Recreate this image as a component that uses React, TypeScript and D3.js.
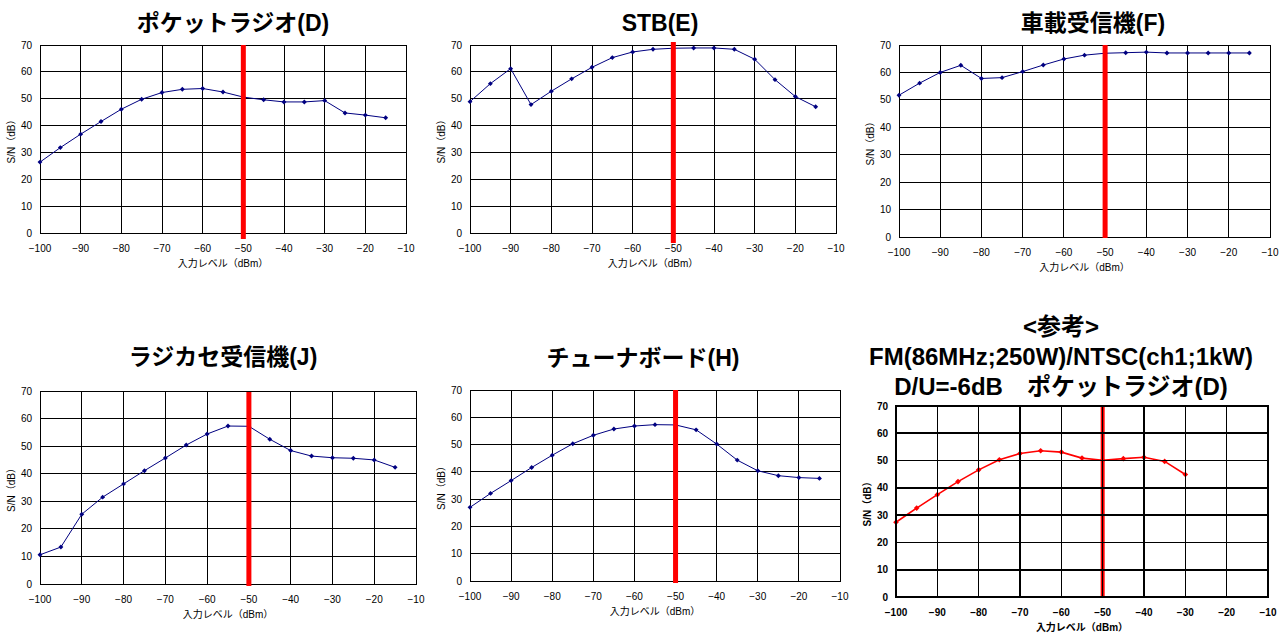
import * as d3 from "d3";

const levels = [-100, -95, -90, -85, -80, -75, -70, -65, -60, -55, -50, -45, -40, -35, -30, -25, -20, -15];
const levelsRef = [-100, -95, -90, -85, -80, -75, -70, -65, -60, -55, -50, -45, -40, -35, -30];

const snPocketD = [26.4, 31.8, 36.8, 41.5, 46.1, 49.8, 52.3, 53.5, 53.8, 52.5, 50.6, 49.6, 48.8, 48.8, 49.3, 44.7, 43.9, 42.9];
const snStbE = [48.9, 55.6, 61.2, 47.8, 52.8, 57.4, 61.7, 65.3, 67.4, 68.4, 68.8, 68.9, 68.9, 68.4, 64.7, 57.1, 50.8, 47.0];
const snCarF = [51.7, 56.1, 60.0, 62.6, 57.8, 58.1, 60.3, 62.7, 64.9, 66.3, 67.0, 67.2, 67.4, 67.1, 67.1, 67.1, 67.1, 67.1];
const snRadioJ = [10.6, 13.4, 25.3, 31.5, 36.3, 41.1, 45.7, 50.4, 54.4, 57.3, 57.2, 52.5, 48.4, 46.4, 45.8, 45.6, 45.0, 42.3];
const snTunerH = [27.0, 32.1, 36.8, 41.6, 46.1, 50.3, 53.4, 55.7, 56.8, 57.3, 57.2, 55.4, 50.2, 44.3, 40.4, 38.6, 37.9, 37.6];
const snRefD = [27.4, 32.6, 37.5, 42.3, 46.6, 50.3, 52.6, 53.6, 53.1, 50.9, 50.1, 50.7, 51.2, 49.7, 44.9];

const xTicks = [-100, -90, -80, -70, -60, -50, -40, -30, -20, -10];
const yTicks = [0, 10, 20, 30, 40, 50, 60, 70];
const refLevel = -50;

const FONT = "'Liberation Sans', Arial, 'Noto Sans CJK JP', sans-serif";

function Chart({ titles, tx, ty, box, xs, ys, color, bold = false, refSpan, gridOnTop = false }) {
  const [x0, x1, y0, y1] = box;
  const x = d3.scaleLinear([-100, -10], [x0, x1]);
  const y = d3.scaleLinear([0, 70], [y1, y0]);
  const pts = xs.map((v, i) => [v, ys[i]]);
  const line = d3.line().x((d) => x(d[0])).y((d) => y(d[1]));
  // excel-style diamond: a square turned 45 degrees
  const marker = d3.symbol(d3.symbolSquare, bold ? 16 : 12)();
  const gw = bold ? 1.6 : 1;
  const fw = bold ? "bold" : "normal";

  const grid = (
    <g stroke="#000" strokeWidth={gw} shapeRendering="crispEdges">
      {xTicks.map((t) => (
        <line key={"x" + t} x1={x(t)} x2={x(t)} y1={y0} y2={y1} />
      ))}
      {yTicks.map((t) => (
        <line key={"y" + t} x1={x0} x2={x1} y1={y(t)} y2={y(t)} />
      ))}
      <rect x={x0} y={y0} width={x1 - x0} height={y1 - y0} fill="none" />
    </g>
  );
  const ref = (
    <line
      x1={x(refLevel)}
      x2={x(refLevel)}
      y1={y(refSpan[1])}
      y2={y(refSpan[0])}
      stroke="#ff0000"
      strokeWidth={bold ? 4 : 5}
    />
  );

  return (
    <g fontFamily={FONT}>
      {titles.map((t, i) => (
        <text key={i} x={tx} y={ty + i * 30} textAnchor="middle" fontSize={bold ? 24 : 23} fontWeight="bold">
          {t}
        </text>
      ))}
      {!gridOnTop && grid}
      <path d={line(pts)} fill="none" stroke={color} strokeWidth={bold ? 1.6 : 1} />
      {pts.map((d, i) => (
        <path key={i} d={marker} transform={`translate(${x(d[0])},${y(d[1])}) rotate(45)`} fill={color} />
      ))}
      {ref}
      {gridOnTop && grid}
      {xTicks.map((t) => (
        <text key={"xl" + t} x={x(t)} y={y1 + 19} textAnchor="middle" fontSize={10} fontWeight={fw}>
          {d3.format("")(t)}
        </text>
      ))}
      {yTicks.map((t) => (
        <text key={"yl" + t} x={x0 - 8} y={y(t)} dy="0.35em" textAnchor="end" fontSize={10} fontWeight={fw}>
          {t}
        </text>
      ))}
      <text x={(x0 + x1) / 2} y={y1 + 33.5} textAnchor="middle" fontSize={10} fontWeight={fw}>
        入力レベル（dBm）
      </text>
      <text
        transform={`translate(${x0 - 25},${(y0 + y1) / 2}) rotate(-90)`}
        textAnchor="middle"
        fontSize={10}
        fontWeight={fw}
      >
        S/N（dB）
      </text>
    </g>
  );
}

export default function App() {
  return (
    <svg width={1288} height={635} style={{ position: "absolute", left: 0, top: 0, background: "#fff" }}>
      <Chart titles={["ポケットラジオ(D)"]} tx={233} ty={31} box={[40, 406, 45, 233]} xs={levels} ys={snPocketD} color="#000080" refSpan={[-2.2, 70]} />
      <Chart titles={["STB(E)"]} tx={660} ty={31} box={[470, 836, 45, 233]} xs={levels} ys={snStbE} color="#000080" refSpan={[-3.7, 71.1]} />
      <Chart titles={["車載受信機(F)"]} tx={1093} ty={31} box={[899, 1270, 45, 237]} xs={levels} ys={snCarF} color="#000080" refSpan={[-0.4, 70]} />
      <Chart titles={["ラジカセ受信機(J)"]} tx={223} ty={365} box={[40, 416, 391, 584]} xs={levels} ys={snRadioJ} color="#000080" refSpan={[-0.7, 69.6]} />
      <Chart titles={["チューナボード(H)"]} tx={643} ty={366} box={[470, 840, 390, 581]} xs={levels} ys={snTunerH} color="#000080" refSpan={[-0.7, 70]} />
      <Chart
        titles={["<参考>", "FM(86MHz;250W)/NTSC(ch1;1kW)", "D/U=-6dB　ポケットラジオ(D)"]}
        tx={1061}
        ty={335}
        box={[896, 1268, 406, 597]}
        xs={levelsRef}
        ys={snRefD}
        color="#ff0000"
        bold
        refSpan={[0, 70]}
        gridOnTop
      />
    </svg>
  );
}
